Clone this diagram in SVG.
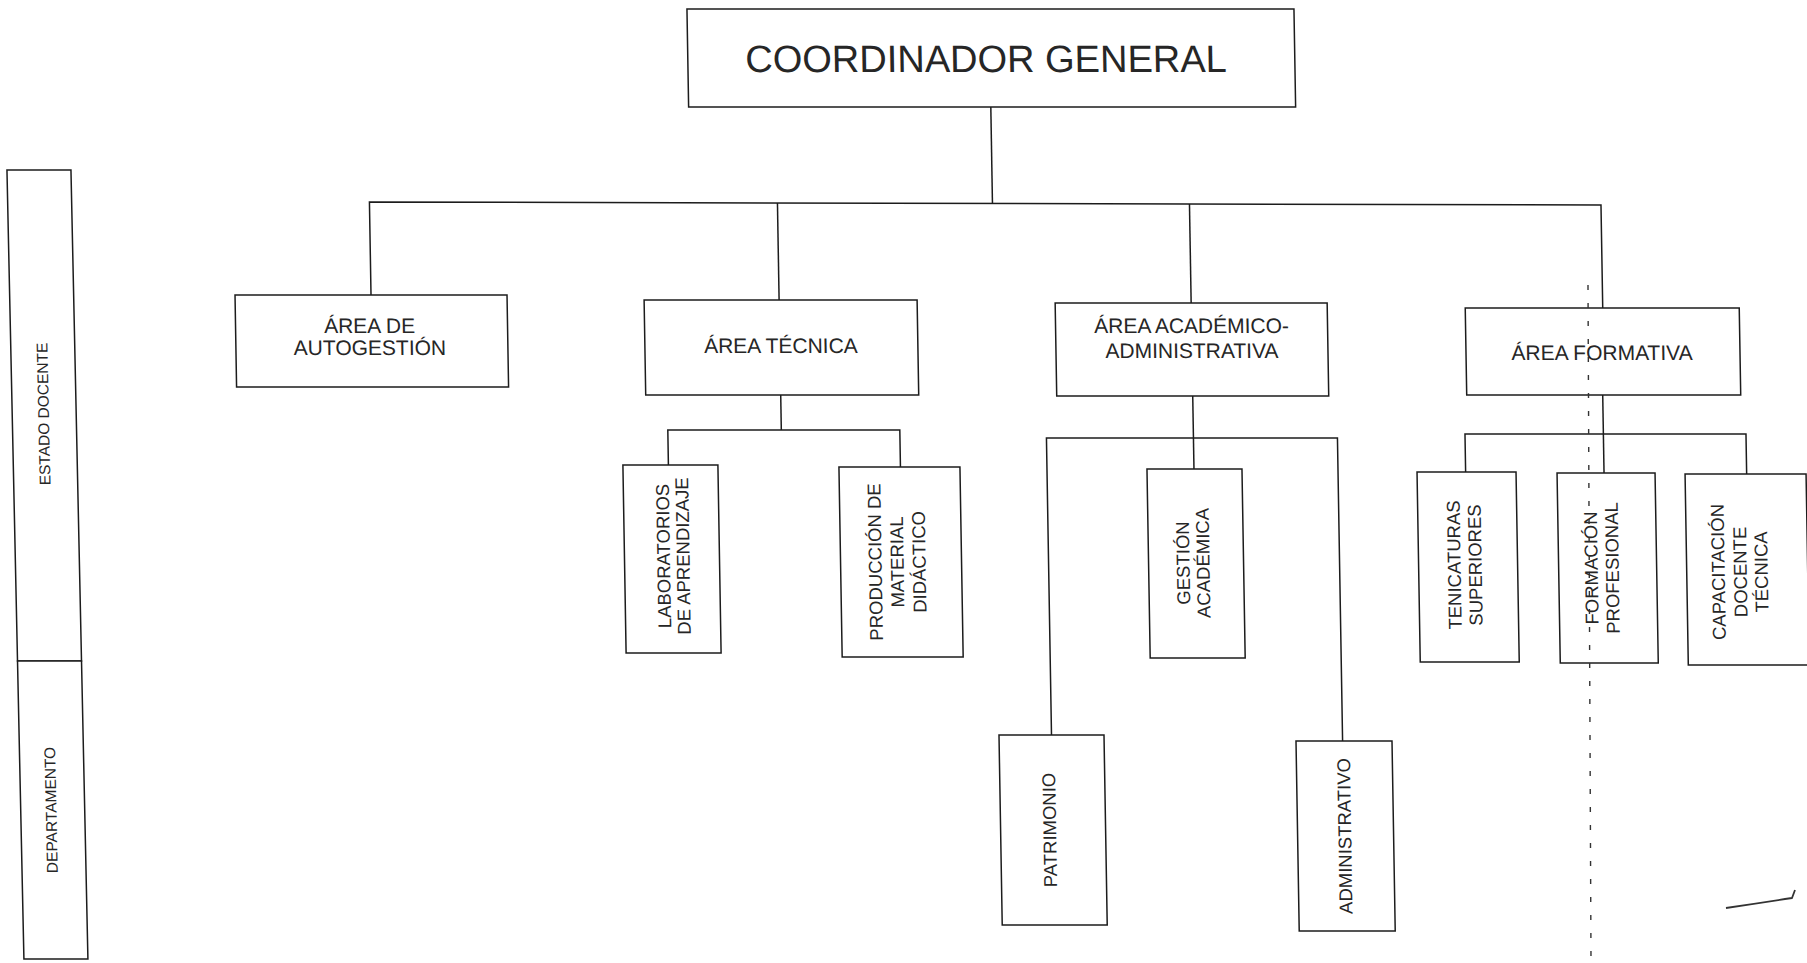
<svg xmlns="http://www.w3.org/2000/svg" width="1807" height="963" viewBox="0 0 1807 963">
<style>
.box{fill:#fff;stroke:#1c1c1c;stroke-width:1.5}
.ln{fill:none;stroke:#1c1c1c;stroke-width:1.5}
text{font-family:"Liberation Sans",Arial,sans-serif;fill:#262626}
.t{font-size:38px;text-anchor:middle}
.h{font-size:21px;text-anchor:middle}
.v{font-size:18.5px;text-anchor:middle}
.s{font-size:15.5px;text-anchor:middle}
</style>
<rect width="1807" height="963" fill="#fff"/>
<g id="side" transform="matrix(1 0 0.0215 1 0 0)">
  <g id="estado-docente">
    <rect class="box" x="3.3" y="170" width="64" height="491"/>
    <text class="s" transform="rotate(-90)" x="-414" y="40">ESTADO DOCENTE</text>
  </g>
  <g id="departamento">
    <rect class="box" x="3.3" y="661" width="64" height="298"/>
    <text class="s" transform="rotate(-90)" x="-810" y="39">DEPARTAMENTO</text>
  </g>
</g>
<g id="chart" transform="matrix(1 0 0.017 1 0 0)">
  <g id="connectors" class="ln">
    <path d="M989 107V203"/>
    <path d="M366 295V202L1597.5 205V308"/>
    <path d="M774 203V300"/>
    <path d="M1186 204V303"/>
    <path d="M774 395V430"/>
    <path d="M660.5 465V430H892.5V467"/>
    <path d="M1186 396V469"/>
    <path d="M1039 735V438H1330V741"/>
    <path d="M1596 395V473"/>
    <path d="M1457.6 472V434H1738.6V475"/>
  </g>
  <g id="coordinador-general">
    <rect class="box" x="686.8" y="9" width="607" height="98"/>
    <text class="t" x="985" y="72">COORDINADOR GENERAL</text>
  </g>
  <g id="area-autogestion">
    <rect class="box" x="230" y="295" width="272" height="92"/>
    <text class="h"><tspan x="364" y="333">ÁREA DE</tspan><tspan x="364" y="355">AUTOGESTIÓN</tspan></text>
  </g>
  <g id="area-tecnica">
    <rect class="box" x="639" y="300" width="273" height="95"/>
    <text class="h" x="775" y="353">ÁREA TÉCNICA</text>
  </g>
  <g id="area-academico-administrativa">
    <rect class="box" x="1050" y="303" width="272" height="93"/>
    <text class="h"><tspan x="1186" y="333">ÁREA ACADÉMICO-</tspan><tspan x="1186" y="358">ADMINISTRATIVA</tspan></text>
  </g>
  <g id="area-formativa">
    <rect class="box" x="1460" y="308" width="274" height="87"/>
    <text class="h" x="1596" y="360">ÁREA FORMATIVA</text>
  </g>
  <g id="laboratorios">
    <rect class="box" x="615" y="465" width="95" height="188"/>
    <text class="v" transform="rotate(-90)"><tspan x="-556" y="660.5">LABORATORIOS</tspan><tspan x="-556" y="680">DE APRENDIZAJE</tspan></text>
  </g>
  <g id="produccion">
    <rect class="box" x="831" y="467" width="121" height="190"/>
    <text class="v" transform="rotate(-90)"><tspan x="-562" y="872">PRODUCCIÓN DE</tspan><tspan x="-562" y="894">MATERIAL</tspan><tspan x="-562" y="916">DIDÁCTICO</tspan></text>
  </g>
  <g id="gestion-academica">
    <rect class="box" x="1139" y="469" width="95" height="189"/>
    <text class="v" transform="rotate(-90)"><tspan x="-563" y="1180">GESTIÓN</tspan><tspan x="-563" y="1200">ACADÉMICA</tspan></text>
  </g>
  <g id="patrimonio">
    <rect class="box" x="986.5" y="735" width="105" height="190"/>
    <text class="v" transform="rotate(-90)" x="-830" y="1042">PATRIMONIO</text>
  </g>
  <g id="administrativo">
    <rect class="box" x="1283.4" y="741" width="96" height="190"/>
    <text class="v" transform="rotate(-90)" x="-836" y="1337">ADMINISTRATIVO</text>
  </g>
  <g id="tenicaturas">
    <rect class="box" x="1409" y="472" width="99" height="190"/>
    <text class="v" transform="rotate(-90)"><tspan x="-565" y="1451">TENICATURAS</tspan><tspan x="-565" y="1472">SUPERIORES</tspan></text>
  </g>
  <g id="formacion-profesional">
    <rect class="box" x="1549" y="473" width="98" height="190"/>
    <text class="v" transform="rotate(-90)"><tspan x="-568" y="1588">FORMACIÓN</tspan><tspan x="-568" y="1609">PROFESIONAL</tspan></text>
  </g>
  <g id="capacitacion">
    <rect class="box" x="1677" y="474" width="121" height="191"/>
    <text class="v" transform="rotate(-90)"><tspan x="-572" y="1715">CAPACITACIÓN</tspan><tspan x="-572" y="1737">DOCENTE</tspan><tspan x="-572" y="1758">TÉCNICA</tspan></text>
  </g>
</g>
<g id="marks" fill="none" stroke="#333">
  <path d="M1588 285L1591 960" stroke-width="1.4" stroke-dasharray="5 13"/>
  <path d="M1726 908Q1760 903 1792 898L1795 890" stroke-width="1.8"/>
</g>
</svg>
